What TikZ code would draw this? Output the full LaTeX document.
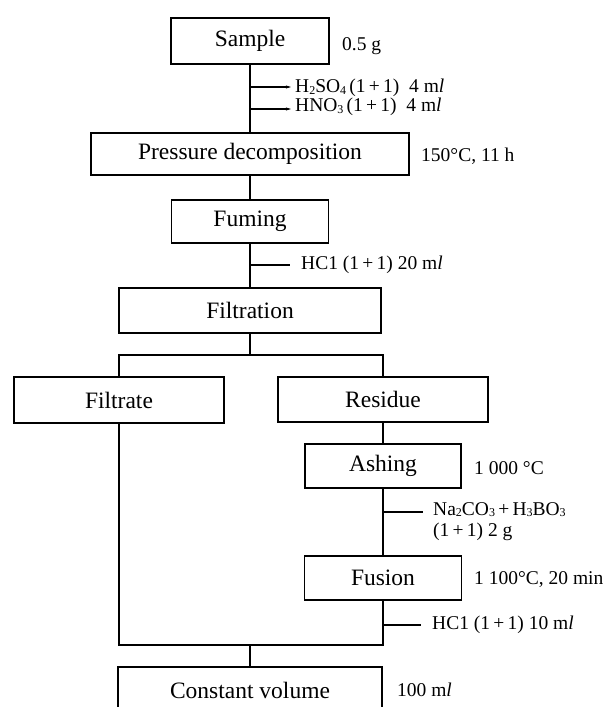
\documentclass[tikz,border=0pt]{standalone}
\usepackage{fontspec}
\setmainfont{Liberation Serif}
\usetikzlibrary{arrows.meta}
\newcommand\sbs[1]{\raisebox{-0.15ex}{\fontsize{12}{12}\selectfont #1}}
\tikzset{
  stepbox/.style={draw, line width=1.6pt, inner sep=0pt, font=\fontsize{23.5}{25}\selectfont},
  side/.style={anchor=west, inner sep=0pt, font=\fontsize{19.5}{22}\selectfont, align=left},
  conn/.style={line width=1.6pt},
  feed/.style={line width=1.3pt, -{Stealth[length=5pt,width=3pt]}},
  feedplain/.style={line width=1.3pt}
}
\begin{document}
\begin{tikzpicture}[x=1pt,y=-1pt]
\useasboundingbox (0,0) rectangle (613,707);
\clip (0,0) rectangle (613,707);
% boxes
\node[stepbox, minimum width=158pt, minimum height=46pt] (sample) at (250,41) {Sample};
\node[stepbox, minimum width=318pt, minimum height=42pt] (press) at (250,154) {Pressure decomposition};
\node[stepbox, minimum width=157pt, minimum height=43pt] (fuming) at (250,221.5) {Fuming};
\node[stepbox, minimum width=262pt, minimum height=45pt] (filtration) at (250,310.5) {Filtration};
\node[stepbox, minimum width=210pt, minimum height=46pt] (filtrate) at (119,400) {Filtrate};
\node[stepbox, minimum width=210pt, minimum height=45pt] (residue) at (383,399.5) {Residue};
\node[stepbox, minimum width=156pt, minimum height=44pt] (ashing) at (383,466) {Ashing};
\node[stepbox, minimum width=157pt, minimum height=44pt] (fusion) at (383,578) {Fusion};
\node[stepbox, minimum width=264pt, minimum height=46pt] (constvol) at (250,690) {Constant volume};
% side labels
\node[side] (l0) at (342,46) {0.5 g};
\node[side] (l1) at (295,88) {H\sbs{2}SO\sbs{4}\,(1\,+\,1)\ \ 4 m\textit{l}};
\node[side] (l2) at (295,107) {HNO\sbs{3}\,(1\,+\,1)\ \ 4 m\textit{l}};
\node[side] (l3) at (421,156) {150°C, 11 h};
\node[side] (l4) at (301,265) {HC1 (1\,+\,1) 20 m\textit{l}};
\node[side] (l5) at (474,468) {1 000 °C};
\node[side, anchor=north west] (l6) at (433,502) {Na\sbs{2}CO\sbs{3}\,+\,H\sbs{3}BO\sbs{3}\\[-1pt](1\,+\,1) 2 g};
\node[side] (l7) at (474,580) {1 100°C, 20 min};
\node[side] (l8) at (432,625) {HC1 (1\,+\,1) 10 m\textit{l}};
\node[side] (l9) at (397,690) {100 m\textit{l}};
% junction coordinates
\coordinate (a1s) at (250,87);  \coordinate (a1e) at (291,87);
\coordinate (a2s) at (250,109); \coordinate (a2e) at (291,109);
\coordinate (a3s) at (250,265); \coordinate (a3e) at (290,265);
\coordinate (a4s) at (383,512); \coordinate (a4e) at (423,512);
\coordinate (a5s) at (383,625); \coordinate (a5e) at (421,625);
\coordinate (bm) at (250,355);
\coordinate (bl) at (119,355);
\coordinate (br) at (383,355);
\coordinate (cl) at (119,645);
\coordinate (cr) at (383,645);
\coordinate (cm) at (250,645);
% main flow
\draw[conn] (sample) -- (press);
\draw[conn] (press) -- (fuming);
\draw[conn] (fuming) -- (filtration);
\draw[conn] (filtration) -- (bm);
\draw[conn] (filtrate) -- (bl) -- (br) -- (residue);
\draw[conn] (residue) -- (ashing);
\draw[conn] (ashing) -- (fusion);
\draw[conn] (filtrate) -- (cl) -- (cr) -- (fusion);
\draw[conn] (cm) -- (constvol);
% feeds
\draw[feed] (a1s) -- (a1e);
\draw[feed] (a2s) -- (a2e);
\draw[feedplain] (a3s) -- (a3e);
\draw[feedplain] (a4s) -- (a4e);
\draw[feedplain] (a5s) -- (a5e);
\end{tikzpicture}
\end{document}
